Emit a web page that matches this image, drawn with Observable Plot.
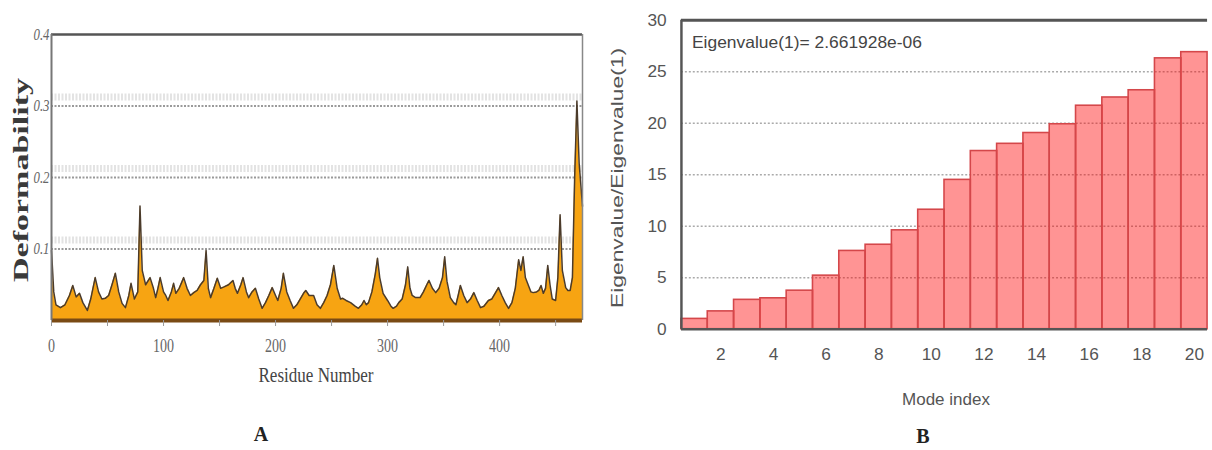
<!DOCTYPE html>
<html><head><meta charset="utf-8">
<script src="https://cdn.jsdelivr.net/npm/d3@7"></script>
<script src="https://cdn.jsdelivr.net/npm/@observablehq/plot@0.6"></script>
<style>
html,body{margin:0;padding:0;background:#fff;overflow:hidden;}
#wrap{position:relative;width:1212px;height:450px;overflow:hidden;background:#fff;}
#a{position:absolute;left:0;top:0;}
#b{position:absolute;left:600px;top:0;}
#ov{position:absolute;left:0;top:0;pointer-events:none;}
</style></head><body>
<div id="wrap"><div id="a"></div><div id="b"></div>
<svg id="ov" width="1212" height="450">
  <text x="21" y="180" transform="rotate(-90 21 180)" text-anchor="middle" dominant-baseline="central" font-family="Liberation Serif" font-weight="bold" font-size="20" fill="#3a3a3a" textLength="204" lengthAdjust="spacingAndGlyphs">Deformability</text>
  <text x="316" y="375" text-anchor="middle" dominant-baseline="central" font-family="Liberation Serif" font-size="21" fill="#444" textLength="115" lengthAdjust="spacingAndGlyphs">Residue Number</text>
  <text x="261" y="434" text-anchor="middle" dominant-baseline="central" font-family="Liberation Serif" font-weight="bold" font-size="20" fill="#222">A</text>
  <text x="617" y="178" transform="rotate(-90 617 178)" text-anchor="middle" dominant-baseline="central" font-family="Liberation Sans" font-size="17" fill="#555" textLength="260" lengthAdjust="spacingAndGlyphs">Eigenvalue/Eigenvalue(1)</text>
  <text x="946" y="399" text-anchor="middle" dominant-baseline="central" font-family="Liberation Sans" font-size="17" fill="#555">Mode index</text>
  <text x="923" y="436" text-anchor="middle" dominant-baseline="central" font-family="Liberation Serif" font-weight="bold" font-size="20" fill="#222">B</text>
  <text x="692" y="42" dominant-baseline="central" font-family="Liberation Sans" font-size="16.5" fill="#444" textLength="230" lengthAdjust="spacingAndGlyphs">Eigenvalue(1)= 2.661928e-06</text>
</svg>
</div>
<script>
// Panel A: deformability per residue
const residues = [
  0,2,4,8,12,16,19,22,25,28,
  32,35,39,42,45,48,51,54,57,60,
  63,66,69,71,74,77,79,81,84,88,
  91,93,95,97,100,102,104,107,109,111,
  114,118,121,124,127,130,133,136,138,140,
  142,145,148,151,154,158,162,164,166,169,
  171,174,176,179,182,185,188,191,194,197,
  200,202,205,207,210,213,216,219,222,225,
  227,230,234,237,240,243,246,249,252,255,
  258,260,263,267,271,274,277,279,281,283,
  286,289,291,293,296,300,303,305,308,310,
  313,316,318,320,322,325,329,332,335,337,
  340,343,346,349,351,353,356,359,361,363,
  365,368,371,374,377,380,383,386,390,393,
  396,399,402,405,408,411,414,417,419,421,
  423,426,428,430,433,435,437,439,441,443,
  445,447,450,452,454,456,459,461,463,465,
  467,469,471,474
];
const deformability = [
  .098,.040,.022,.018,.022,.035,.049,.033,.038,.025,
  .014,.030,.060,.040,.030,.031,.035,.050,.066,.040,
  .024,.018,.035,.052,.030,.040,.160,.070,.050,.060,
  .045,.032,.045,.060,.040,.035,.028,.040,.052,.038,
  .045,.060,.045,.035,.039,.042,.050,.056,.098,.045,
  .032,.045,.059,.045,.047,.050,.056,.045,.038,.050,
  .060,.040,.032,.040,.045,.030,.017,.025,.035,.046,
  .035,.028,.045,.066,.040,.028,.017,.022,.030,.038,
  .042,.035,.035,.022,.017,.025,.035,.050,.077,.045,
  .030,.031,.028,.025,.020,.017,.022,.028,.022,.025,
  .040,.065,.087,.060,.038,.028,.020,.017,.020,.025,
  .030,.050,.075,.045,.035,.032,.032,.040,.050,.056,
  .045,.039,.045,.060,.089,.055,.032,.025,.022,.035,
  .049,.035,.025,.030,.039,.028,.018,.020,.028,.030,
  .038,.046,.035,.025,.017,.025,.045,.085,.070,.089,
  .060,.048,.040,.039,.040,.042,.049,.038,.045,.077,
  .050,.030,.028,.060,.148,.070,.046,.042,.042,.060,
  .200,.307,.220,.160
];
const residueDomain = [0, 474];
const deformDomain = [0, 0.4];
const xTicksA = [0,50,100,150,200,250,300,350,400,450];
const yTicksA = [0.1,0.2,0.3,0.4];
const gridA = [0.1,0.2,0.3];

// Panel B: eigenvalue ratios per mode
const modes = [1,2,3,4,5,6,7,8,9,10,11,12,13,14,15,16,17,18,19,20];
const eigenRatios = [1.0,1.73,2.85,3.0,3.74,5.2,7.6,8.2,9.6,11.6,14.5,17.3,18.0,19.05,19.9,21.7,22.5,23.2,26.3,26.9];
const xTicksB = [2,4,6,8,10,12,14,16,18,20];
const yTicksB = [0,5,10,15,20,25,30];
const gridB = [5,10,15,20,25];

const dataA = residues.map((r, i) => ({r, v: deformability[i]}));
const dataB = modes.map((m, i) => ({m, v: eigenRatios[i]}));

const plotA = Plot.plot({
  width: 600, height: 450,
  marginLeft: 51, marginRight: 18, marginTop: 34, marginBottom: 130,
  x: {domain: residueDomain},
  y: {domain: deformDomain},
  style: {fontFamily: "Liberation Serif", fontSize: "19px", color: "#666", background: "transparent"},
  marks: [
    Plot.ruleY(gridA, {stroke: "#e3e3e3", strokeWidth: 7, strokeDasharray: "2,1.5", dy: -9}),
    Plot.ruleY(gridA, {stroke: "#9a9a9a", strokeWidth: 2, strokeDasharray: "2,1.5"}),
    Plot.areaY(dataA, {x: "r", y: "v", fill: "#F7A412"}),
    Plot.lineY(dataA, {x: "r", y: "v", stroke: "#4b3b2b", strokeWidth: 1.5}),
    Plot.ruleY([deformDomain[0]], {stroke: "#7a4a14", strokeWidth: 4}),
    Plot.ruleY([deformDomain[1]], {stroke: "#555", strokeWidth: 2.5}),
    Plot.ruleX([residueDomain[0]], {stroke: "#777", strokeWidth: 2}),
    Plot.ruleX([residueDomain[1]], {stroke: "#888", strokeWidth: 1.5}),
    Plot.axisX({ticks: xTicksA, tickFormat: d => d % 100 === 0 ? String(d) : "", tickSize: 6, tickPadding: 12, stroke: "#999", label: null}),
    Plot.axisY({ticks: yTicksA, tickFormat: d => d.toFixed(1), tickSize: 0, tickPadding: 2, fontStyle: "italic", fontSize: 17, label: null})
  ]
});
document.getElementById("a").appendChild(plotA);
// condense residue tick labels like the reference
d3.select(plotA).selectAll("g[aria-label='x-axis tick label'] text").each(function() {
  const s = this.textContent;
  if (s) { this.setAttribute("textLength", 7 * s.length); this.setAttribute("lengthAdjust", "spacingAndGlyphs"); }
});
d3.select(plotA).selectAll("g[aria-label='y-axis tick label'] text").each(function() {
  this.setAttribute("textLength", 16); this.setAttribute("lengthAdjust", "spacingAndGlyphs");
});

const plotB = Plot.plot({
  width: 620, height: 450,
  marginLeft: 82, marginRight: 5, marginTop: 20, marginBottom: 117,
  x: {domain: [0.5, 20.5]},
  y: {domain: [0, 30]},
  style: {fontFamily: "Liberation Sans", fontSize: "17.5px", color: "#555", background: "transparent"},
  marks: [
    Plot.ruleY(gridB, {stroke: "#aaa", strokeWidth: 1.5, strokeDasharray: "2,2"}),
    Plot.rectY(dataB, {x1: d => d.m - 0.5, x2: d => d.m + 0.5, y: "v", fill: "red", fillOpacity: 0.42, stroke: "#d4474a", strokeWidth: 1.6}),
    Plot.ruleY([0], {stroke: "#555", strokeWidth: 2.5}),
    Plot.ruleY([30], {stroke: "#555", strokeWidth: 3}),
    Plot.ruleX([0.5], {stroke: "#555", strokeWidth: 2.5}),
    Plot.axisX({ticks: xTicksB, tickSize: 0, tickPadding: 19, label: null}),
    Plot.axisY({ticks: yTicksB, tickSize: 0, tickPadding: 15, label: null})
  ]
});
document.getElementById("b").appendChild(plotB);
</script>
</body></html>
